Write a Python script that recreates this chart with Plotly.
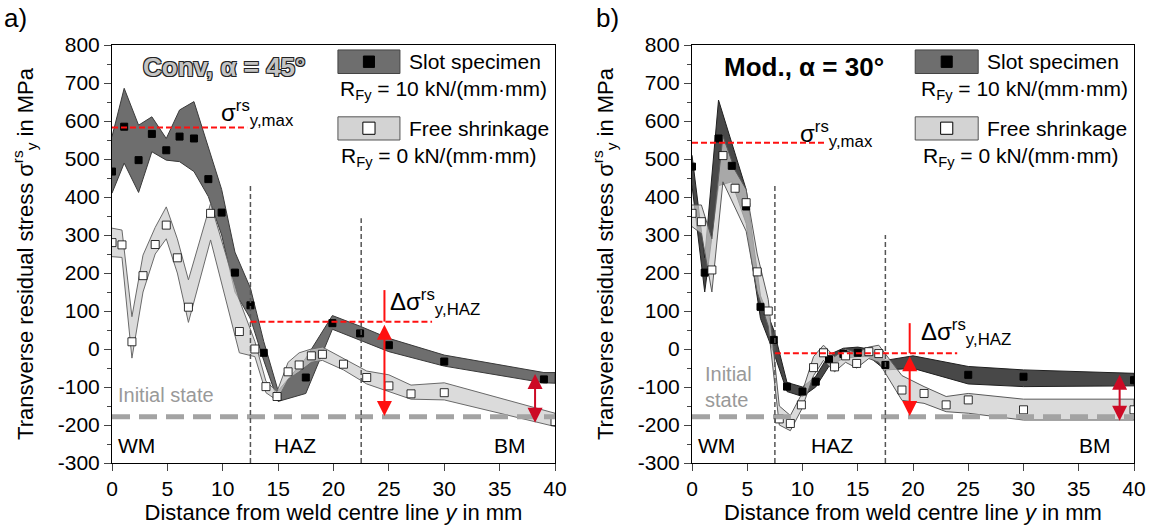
import plotly.graph_objects as go

# ---------------- Panel a) Conv, alpha = 45 deg ----------------
slot_a_x = [0, 1.1, 2.4, 3.6, 4.9, 6.1, 7.4, 8.7, 9.9, 11.1, 12.5, 13.7, 17.5, 19.9, 22.4, 25, 30, 39]
slot_a_y = [467, 585, 497, 566, 523, 559, 554, 447, 359, 201, 115, -10, -75, 68, 41, 10, -33, -80]
slot_a_bx = [0, 1.1, 2.4, 3.6, 4.9, 6.1, 7.4, 8.7, 9.9, 11.1, 12.5, 13.7, 15.0, 17.5, 19.9, 22.4, 25, 30, 39, 40]
slot_a_lo = [410, 489, 412, 519, 497, 493, 467, 401, 300, 150, 80, -30, -138, -117, 52, 24, -7, -45, -89, -90]
slot_a_hi = [559, 686, 589, 611, 554, 629, 651, 532, 420, 255, 160, 20, -110, -24, 88, 60, 28, -16, -62, -62]

free_a_x = [0, 0.9, 1.8, 2.8, 3.9, 4.9, 5.9, 6.9, 8.9, 11.5, 12.9, 13.9, 14.9, 15.9, 16.9, 18, 19, 20.9, 23, 25, 27, 30, 40]
free_a_y = [280, 274, 19, 193, 275, 326, 240, 110, 357, 46, 0, -99, -125, -60, -42, -18, -14, -40, -75, -97, -118, -115, -191]
free_a_lo = [243, 241, -24, 150, 250, 290, 200, 70, 287, -10, -20, -115, -135, -80, -60, -35, -30, -55, -92, -112, -132, -134, -204]
free_a_hi = [318, 313, 85, 247, 320, 374, 290, 182, 383, 129, 20, -85, -112, -35, -10, 0, 5, -25, -58, -68, -95, -89, -169]

# ---------------- Panel b) Mod., alpha = 30 deg ----------------
slot_b_x = [0, 1.15, 2.4, 3.6, 4.9, 6.2, 7.4, 8.6, 10, 11.2, 12.4, 13.7, 15.0, 17.5, 25, 30, 40]
slot_b_y = [480, 201, 554, 482, 375, 111, 24, -99, -112, -86, -27, -13, -10, -42, -68, -73, -82]
slot_b_bx = [0, 1.15, 2.4, 3.6, 4.9, 6.2, 7.4, 8.6, 10, 11.2, 12.4, 13.7, 15.0, 16, 17.5, 20, 25, 30, 40]
slot_b_lo = [430, 150, 430, 440, 330, 80, -10, -112, -125, -100, -45, -25, -20, -20, -55, -51, -92, -99, -97]
slot_b_hi = [510, 240, 655, 540, 420, 140, 50, -88, -100, -72, -15, 2, 5, 0, -30, -18, -46, -55, -64]

free_b_x = [0, 0.85, 1.8, 2.8, 3.9, 4.9, 5.9, 6.9, 7.9, 8.9, 9.9, 11, 11.9, 12.9, 13.9, 14.9, 16.0, 16.9, 19, 21, 23, 25, 30, 40]
free_b_y = [357, 335, 208, 509, 423, 385, 203, 100, -184, -196, -147, -49, -10, -47, -18, -38, -7, -12, -108, -117, -147, -134, -160, -160]
free_b_lo = [322, 304, 150, 440, 370, 310, 150, 60, -200, -215, -160, -70, -30, -60, -35, -50, -25, -35, -135, -143, -165, -169, -187, -187]
free_b_hi = [379, 379, 290, 560, 470, 420, 250, 130, -150, -175, -120, -20, 10, -20, 0, -10, 5, 10, -70, -99, -125, -117, -132, -132]

initial_state = -178
x_ticks = [0, 5, 10, 15, 20, 25, 30, 35, 40]
y_ticks = [-300, -200, -100, 0, 100, 200, 300, 400, 500, 600, 700, 800]
y_tick_text = ["-300", "-200", "-100", "0", "100", "200", "300", "400", "500", "600", "700", "800"]

FONT = "Arial, Liberation Sans, sans-serif"
fig = go.Figure()


def band(x, lo, hi, fill, line, xa, ya):
    fig.add_trace(go.Scatter(x=list(x) + list(x)[::-1], y=list(hi) + list(lo)[::-1],
                             fill="toself", fillcolor=fill, mode="lines",
                             line=dict(color=line, width=1), xaxis=xa, yaxis=ya,
                             hoverinfo="skip", showlegend=False))


def pts(x, y, filled, xa, ya):
    fig.add_trace(go.Scatter(x=x, y=y, mode="markers", xaxis=xa, yaxis=ya, showlegend=False,
                             marker=dict(symbol="square", size=7 if filled else 8,
                                         color="black" if filled else "white",
                                         line=dict(color="black", width=1 if filled else 0.8))))


# panel a
band(slot_a_bx, slot_a_lo, slot_a_hi, "#6e6e6e", "#3a3a3a", "x", "y")
band(free_a_x, free_a_lo, free_a_hi, "rgba(205,205,205,0.72)", "#6a6a6a", "x", "y")
pts(slot_a_x, slot_a_y, True, "x", "y")
pts(free_a_x, free_a_y, False, "x", "y")
# panel b
band(slot_b_bx, slot_b_lo, slot_b_hi, "#484848", "#202020", "x2", "y2")
band(free_b_x, free_b_lo, free_b_hi, "rgba(205,205,205,0.72)", "#5a5a5a", "x2", "y2")
pts(slot_b_x, slot_b_y, True, "x2", "y2")
pts(free_b_x, free_b_y, False, "x2", "y2")

shapes = []
ann = []


def add_panel_decor(xr, yr, zone1, zone2, zmax_y, zmax_x1, haz_y, haz_x2, vtop1, vtop2,
                    arrow_x, arrow_top, bm_x, bm_top, bm_bot, title, title_style,
                    lab_x, lab_y, dlab_x, dlab_y, leg_x0, leg_x1, txt_x, r_x1, r_x0,
                    init_txt, init_x, init_y, wm_x, haz_x, bm_xl):
    # initial state line
    shapes.append(dict(type="line", xref=xr, yref=yr, x0=0, x1=40, y0=initial_state, y1=initial_state,
                       line=dict(color="#a3a3a3", width=5, dash="18px,9px")))
    # zone borders
    shapes.append(dict(type="line", xref=xr, yref=yr, x0=zone1, x1=zone1, y0=-300, y1=vtop1,
                       line=dict(color="#555555", width=1.5, dash="5px,3px")))
    shapes.append(dict(type="line", xref=xr, yref=yr, x0=zone2, x1=zone2, y0=-300, y1=vtop2,
                       line=dict(color="#555555", width=1.5, dash="5px,3px")))
    # red dashed lines
    shapes.append(dict(type="line", xref=xr, yref=yr, x0=0, x1=zmax_x1, y0=zmax_y, y1=zmax_y,
                       line=dict(color="#ff1010", width=2, dash="6px,3px")))
    shapes.append(dict(type="line", xref=xr, yref=yr, x0=zone1, x1=haz_x2, y0=haz_y, y1=haz_y,
                       line=dict(color="#ff1010", width=2, dash="6px,3px")))
    # HAZ arrow
    shapes.append(dict(type="line", xref=xr, yref=yr, x0=arrow_x, x1=arrow_x, y0=haz_y, y1=arrow_top,
                       line=dict(color="#ff1010", width=2)))
    ann.append(dict(xref=xr, yref=yr, axref=xr, ayref=yr, x=arrow_x, y=initial_state + 2,
                    ax=arrow_x, ay=haz_y - 4, text="", showarrow=True, arrowhead=2, arrowside="end+start",
                    arrowsize=1.5, arrowwidth=2, arrowcolor="#ff1010"))
    ann.append(dict(xref=xr, yref=yr, axref=xr, ayref=yr, x=bm_x, y=bm_bot,
                    ax=bm_x, ay=bm_top, text="", showarrow=True, arrowhead=2, arrowside="end+start",
                    arrowsize=1.5, arrowwidth=2, arrowcolor="#cc0a25"))
    # labels
    ann.append(dict(xref=xr, yref=yr, x=lab_x, y=lab_y, xanchor="left", yanchor="middle", showarrow=False,
                    text="σ<sup>rs</sup><sub>y,max</sub>", font=dict(family=FONT, size=24, color="black")))
    ann.append(dict(xref=xr, yref=yr, x=dlab_x, y=dlab_y, xanchor="left", yanchor="middle", showarrow=False,
                    text="Δσ<sup>rs</sup><sub>y,HAZ</sub>", font=dict(family=FONT, size=24, color="black")))
    ann.append(dict(xref=xr, yref=yr, x=10.1, y=743, xanchor="center", yanchor="middle", showarrow=False,
                    text=title, font=title_style))
    # legend
    shapes.append(dict(type="rect", xref=xr, yref=yr, x0=leg_x0, x1=leg_x1, y0=725, y1=787,
                       fillcolor="#6e6e6e", line=dict(color="#444444", width=1)))
    shapes.append(dict(type="rect", xref=xr, yref=yr, x0=leg_x0, x1=leg_x1, y0=550, y1=611,
                       fillcolor="#d3d3d3", line=dict(color="#555555", width=1)))
    cx = (leg_x0 + leg_x1) / 2
    shapes.append(dict(type="rect", xref=xr, yref=yr, x0=cx - 0.5, x1=cx + 0.5, y0=741, y1=771,
                       fillcolor="black", line=dict(color="black", width=1)))
    shapes.append(dict(type="rect", xref=xr, yref=yr, x0=cx - 0.55, x1=cx + 0.55, y0=565, y1=597,
                       fillcolor="white", line=dict(color="black", width=1)))
    lf = dict(family=FONT, size=21, color="black")
    ann.append(dict(xref=xr, yref=yr, x=txt_x, y=756, xanchor="left", yanchor="middle", showarrow=False,
                    text="Slot specimen", font=lf))
    ann.append(dict(xref=xr, yref=yr, x=txt_x, y=581, xanchor="left", yanchor="middle", showarrow=False,
                    text="Free shrinkage", font=lf))
    ann.append(dict(xref=xr, yref=yr, x=r_x1, y=682, xanchor="center", yanchor="middle", showarrow=False,
                    text="R<sub>Fy</sub> = 10 kN/(mm·mm)", font=lf))
    ann.append(dict(xref=xr, yref=yr, x=r_x0, y=506, xanchor="center", yanchor="middle", showarrow=False,
                    text="R<sub>Fy</sub> = 0 kN/(mm·mm)", font=lf))
    # initial state text and zones
    ann.append(dict(xref=xr, yref=yr, x=init_x, y=init_y, xanchor="left", yanchor="middle", showarrow=False,
                    text=init_txt, align="left", font=dict(family=FONT, size=20, color="#999999")))
    zf = dict(family=FONT, size=21, color="black")
    ann.append(dict(xref=xr, yref=yr, x=wm_x, y=-253, xanchor="left", yanchor="middle", showarrow=False,
                    text="WM", font=zf))
    ann.append(dict(xref=xr, yref=yr, x=haz_x, y=-253, xanchor="center", yanchor="middle", showarrow=False,
                    text="HAZ", font=zf))
    ann.append(dict(xref=xr, yref=yr, x=bm_xl, y=-253, xanchor="center", yanchor="middle", showarrow=False,
                    text="BM", font=zf))


shadow = "-1px -1px 0 #222, 1px -1px 0 #222, -1px 1px 0 #222, 1px 1px 0 #222"
add_panel_decor("x", "y", 12.5, 22.5, 583, 12.2, 72, 28.9, 436, 344,
                24.6, 155, 38.2, -62, -194,
                "<b>Conv, α = 45°</b>", dict(family=FONT, size=26, color="#c4c4c4", shadow=shadow),
                9.7, 621, 24.9, 124, 20.4, 26.0, 26.6, 29.9, 29.5,
                "Initial state", 0.4, -121, 0.4, 16.5, 35.9)
add_panel_decor("x2", "y2", 7.5, 17.5, 543, 12.0, -11, 24.0, 432, 300,
                19.7, 68, 38.7, -64, -189,
                "<b>Mod., α = 30°</b>", dict(family=FONT, size=26, color="black"),
                9.6, 566, 20.5, 46, 20.2, 25.9, 26.5, 30.1, 29.7,
                "Initial<br>state", 1.0, -99, 0.4, 12.7, 36.5)

ann.append(dict(xref="paper", yref="paper", x=2 / 1150, y=1 - 18 / 528, xanchor="left", yanchor="middle",
                showarrow=False, text="a)", font=dict(family=FONT, size=26, color="black")))
ann.append(dict(xref="paper", yref="paper", x=594 / 1150, y=1 - 18 / 528, xanchor="left", yanchor="middle",
                showarrow=False, text="b)", font=dict(family=FONT, size=26, color="black")))

xax = dict(range=[0, 40], tickvals=x_ticks, ticks="outside", ticklen=7, tickwidth=1, automargin=False,
           showline=True, linecolor="black", linewidth=1, mirror=True, showgrid=False, zeroline=False,
           tickfont=dict(family=FONT, size=21, color="black"),
           title=dict(text="Distance from weld centre line <i>y</i> in mm", standoff=2,
                      font=dict(family=FONT, size=22, color="black")))
yax = dict(range=[-300, 800], tickvals=y_ticks, ticktext=y_tick_text, ticks="outside", ticklen=7, tickwidth=1,
           automargin=False,
           minor=dict(ticks="outside", ticklen=4, dtick=50, tick0=0, showgrid=False),
           showline=True, linecolor="black", linewidth=1, mirror=True, showgrid=False, zeroline=False,
           tickfont=dict(family=FONT, size=21, color="black"),
           title=dict(text="Transverse residual stress σ<sup>rs</sup><sub>y</sub> in MPa", standoff=18,
                      font=dict(family=FONT, size=22, color="black")))

fig.update_layout(
    width=1150, height=528, margin=dict(l=0, r=0, t=0, b=0, autoexpand=False),
    paper_bgcolor="white", plot_bgcolor="white", showlegend=False,
    xaxis=dict(xax, domain=[112 / 1150, 555 / 1150], anchor="y"),
    yaxis=dict(yax, domain=[1 - 463 / 528, 1 - 45 / 528], anchor="x"),
    xaxis2=dict(xax, domain=[692 / 1150, 1134 / 1150], anchor="y2"),
    yaxis2=dict(yax, domain=[1 - 463 / 528, 1 - 45 / 528], anchor="x2"),
    shapes=shapes, annotations=ann,
)

fig.write_html("out.html", config={"displayModeBar": False},
               post_script="document.body.style.margin='0px';")
